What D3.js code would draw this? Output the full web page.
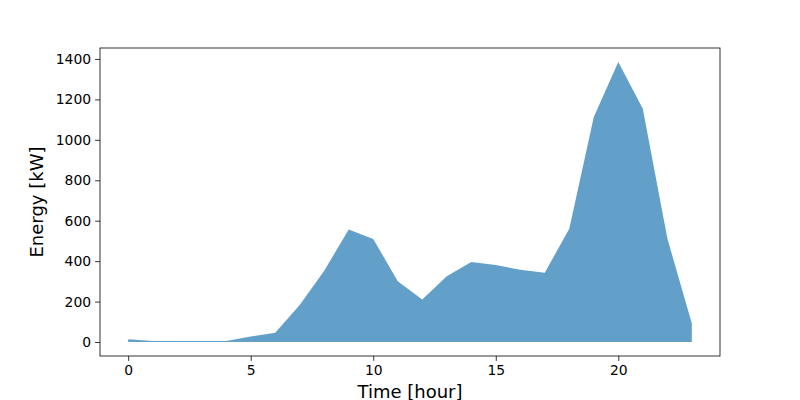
<!DOCTYPE html>
<html>
<head>
<meta charset="utf-8">
<script src="https://cdn.jsdelivr.net/npm/d3@7"></script>
<style>
body { margin: 0; background: #fff; }
text { font-family: "DejaVu Sans", sans-serif; }
</style>
</head>
<body>
<div id="figure"></div>
<script>
// hourly energy
var hours = [0,1,2,3,4,5,6,7,8,9,10,11,12,13,14,15,16,17,18,19,20,21,22,23];
var energy = [13,5,5,5,5,27,46,183,353,556,510,300,210,325,396,381,357,343,560,1113,1385,1154,513,92];
var xTicks = [0,5,10,15,20];
var yTicks = [0,200,400,600,800,1000,1200,1400];

var w = 800, h = 400;
// axes box (window.top is taken, so plain names here)
var axL = 100, axR = 720, axT = 48, axB = 356;

var svg = d3.select("#figure").append("svg")
	.attr("width", w).attr("height", h);

// matplotlib style 5% margins
var xpad = (d3.max(hours) - d3.min(hours)) * 0.05;
var ypad = (d3.max(energy) - 0) * 0.05;

var x = d3.scaleLinear()
	.domain([d3.min(hours) - xpad, d3.max(hours) + xpad])
	.range([axL, axR]);
var y = d3.scaleLinear()
	.domain([0 - ypad, d3.max(energy) + ypad])
	.range([axB, axT]);

var area = d3.area()
	.x(function(d,i) { return x(hours[i]); })
	.y0(y(0))
	.y1(function(d) { return y(d); });

svg.append("path")
	.datum(energy)
	.attr("d", area)
	.attr("fill", "#1f77b4")
	.attr("fill-opacity", 0.7);

var xAxis = svg.append("g")
	.attr("transform", "translate(0," + axB + ")")
	.call(d3.axisBottom(x).tickValues(xTicks).tickSize(4.9).tickPadding(4).tickFormat(d3.format("d")));
var yAxis = svg.append("g")
	.attr("transform", "translate(" + axL + ",0)")
	.call(d3.axisLeft(y).tickValues(yTicks).tickSize(4.9).tickPadding(4).tickFormat(d3.format("d")));

[xAxis, yAxis].forEach(function(a) {
	a.select(".domain").remove();
	a.selectAll("line").attr("stroke", "#000").attr("stroke-width", 0.8);
	a.selectAll("text")
		.attr("fill", "#000")
		.style("font-family", "DejaVu Sans")
		.style("font-size", "13.9px");
});

// frame
svg.append("rect")
	.attr("x", axL).attr("y", axT)
	.attr("width", axR - axL).attr("height", axB - axT)
	.attr("fill", "none")
	.attr("stroke", "#000")
	.attr("stroke-width", 0.8);

svg.append("text")
	.text("Time [hour]")
	.attr("x", (axL + axR) / 2)
	.attr("y", 398)
	.attr("text-anchor", "middle")
	.attr("font-size", "18px");

svg.append("text")
	.text("Energy [kW]")
	.attr("transform", "translate(43," + (axT + axB) / 2 + ") rotate(-90)")
	.attr("text-anchor", "middle")
	.attr("font-size", "18px");
</script>
</body>
</html>
